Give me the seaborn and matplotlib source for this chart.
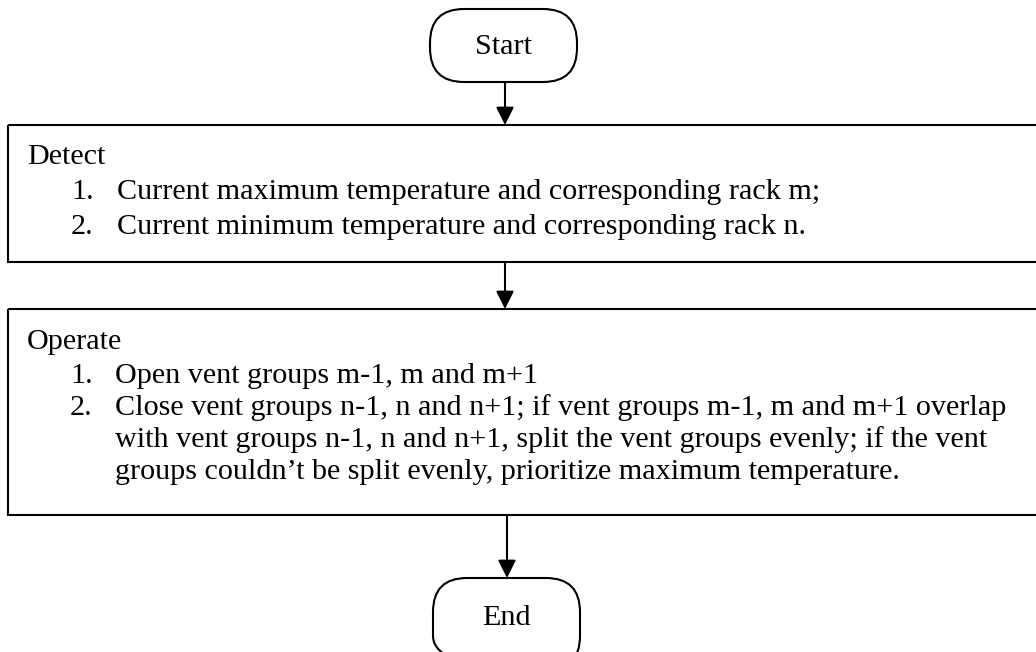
import matplotlib
matplotlib.use('Agg')
import matplotlib.pyplot as plt
import seaborn as sns
from matplotlib.patches import FancyBboxPatch, Rectangle

sns.set_style('white')
plt.rcParams['font.family'] = ['Liberation Serif', 'DejaVu Serif']
plt.rcParams['text.color'] = 'black'

# 순서도 텍스트
start_label = 'Start'
end_label = 'End'
detect_title = 'Detect'
detect_nums = ['1.', '2.']
detect_lines = ['Current maximum temperature and corresponding rack m;',
                'Current minimum temperature and corresponding rack n.']
operate_title = 'Operate'
operate_nums = ['1.', '2.', '', '']
operate_lines = ['Open vent groups m-1, m and m+1',
                 'Close vent groups n-1, n and n+1; if vent groups m-1, m and m+1 overlap',
                 'with vent groups n-1, n and n+1, split the vent groups evenly; if the vent',
                 'groups couldn\u2019t be split evenly, prioritize maximum temperature.']

W, H = 1036, 652
fig = plt.figure(figsize=(W / 100, H / 100), dpi=100)
ax = fig.add_axes([0, 0, 1, 1])
ax.set_xlim(0, W)
ax.set_ylim(H, 0)
ax.axis('off')

lw = 1.5
fs = 21.7

# 시작 / 끝 (둥근 상자)
for (x0, y0, x1, y1), label, base in [((430, 9, 577, 82), start_label, 54),
                                      ((433, 578, 580, 670), end_label, 625)]:
    ax.add_patch(FancyBboxPatch((x0, y0), x1 - x0, y1 - y0,
                                boxstyle='round,pad=0,rounding_size=34',
                                fill=False, ec='black', lw=lw))
    ax.text((x0 + x1) / 2, base, label, ha='center', va='baseline',
            fontsize=fs, color='black')

# Detect / Operate 상자
ax.add_patch(Rectangle((8, 125), 1040, 137, fill=False, ec='black', lw=lw))
ax.add_patch(Rectangle((8, 309), 1040, 206, fill=False, ec='black', lw=lw))

ax.text(27, 164, detect_title, va='baseline', fontsize=fs, color='black')
for i, (n, t) in enumerate(zip(detect_nums, detect_lines)):
    y = 199 + i * 35
    ax.text(71, y, n, va='baseline', fontsize=fs, color='black')
    ax.text(117, y, t, va='baseline', fontsize=fs, color='black')

ax.text(27, 349, operate_title, va='baseline', fontsize=fs, color='black')
for i, (n, t) in enumerate(zip(operate_nums, operate_lines)):
    y = 383 + i * 32
    ax.text(70, y, n, va='baseline', fontsize=fs, color='black')
    ax.text(115, y, t, va='baseline', fontsize=fs, color='black')

# 화살표
for x, ya, yb in [(505, 82, 125), (505, 262, 309), (507, 515, 578)]:
    ax.annotate('', xy=(x, yb), xytext=(x, ya),
                arrowprops=dict(arrowstyle='-|>,head_length=0.9,head_width=0.45',
                                color='black', lw=lw, shrinkA=0, shrinkB=0,
                                mutation_scale=12))

fig.savefig('out.png', dpi=100, facecolor='white')
